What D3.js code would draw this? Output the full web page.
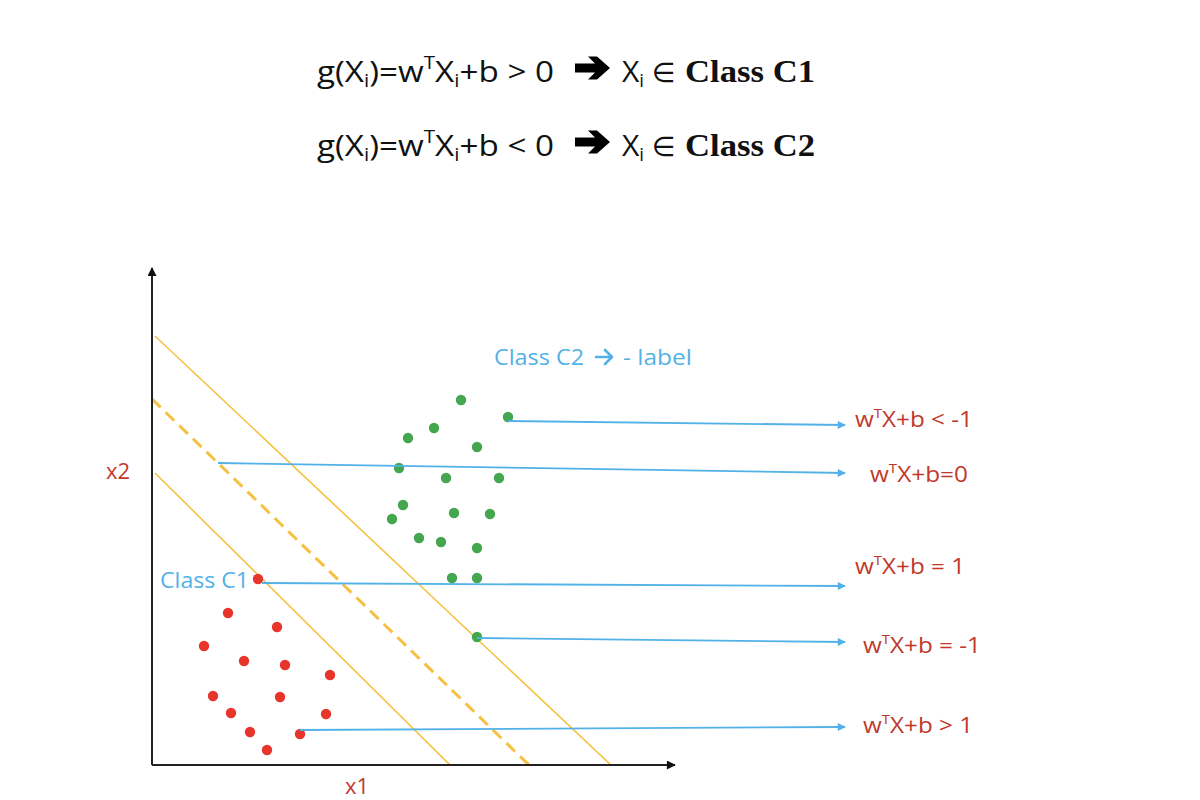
<!DOCTYPE html>
<html>
<head>
<meta charset="utf-8">
<script src="https://cdn.jsdelivr.net/npm/d3@7"></script>
<style>
  html, body { margin: 0; padding: 0; background: #fff; }
  svg { display: block; }
</style>
</head>
<body>
<svg id="chart" width="1200" height="800"></svg>
<script>
// ---------- DATA (x1, x2 in chart units) ----------
const classC1 = [
  [21.2, 37.2], [15.2, 30.4], [25.0, 27.6], [10.4, 23.8], [18.4, 20.8],
  [26.6, 20.0], [35.6, 18.0], [12.2, 13.8], [25.6, 13.6], [15.8, 10.4],
  [34.8, 10.2], [19.6, 6.6], [29.6, 6.2], [23.0, 3.0]
];
const classC2 = [
  [61.8, 73.0], [71.2, 69.6], [56.4, 67.4], [51.2, 65.4], [65.0, 63.6],
  [49.4, 59.4], [58.8, 57.4], [69.4, 57.4], [50.2, 52.0], [60.4, 50.4],
  [67.6, 50.2], [48.0, 49.2], [53.4, 45.4], [57.8, 44.6], [65.0, 43.4],
  [60.0, 37.4], [65.0, 37.4], [65.0, 25.6]
];
// hyperplanes: endpoints
const planeNeg1 = [[0.6, 85.8], [91.8, 0]];
const planeZero = [[0, 73.2], [75.4, 0]];
const planePos1 = [[0.6, 58.4], [59.6, 0]];
// annotation pointers
const pointerStart = [[71.2, 68.8], [13.2, 60.4], [22.0, 36.4], [65.0, 25.4], [29.6, 7.0]];
const pointerEnd   = [[138.6, 68.0], [138.6, 58.4], [138.6, 35.8], [138.6, 24.6], [138.6, 7.6]];
const ruleTails    = ["+b < -1", "+b=0", "+b = 1", "+b = -1", "+b > 1"];
const ruleAnchor   = [[140.6, 67.6], [143.6, 56.6], [140.6, 38.2], [142.2, 22.4], [142.2, 6.4]];
const axisNames = ["x1", "x2"];
const classNames = ["Class C1", "Class C2"];
const headerOps = ["> 0", "< 0"];

// ---------- SCALES ----------
const svg = d3.select("#chart");
const x = d3.scaleLinear().domain([0, 100]).range([152, 652]);
const y = d3.scaleLinear().domain([0, 100]).range([765, 265]);

const SANS = "'Open Sans', 'Noto Sans', sans-serif";
const RED_TXT = "#c0392b";
const BLUE = "#52b2e8";
const YELLOW = "#f6c143";

// markers
const defs = svg.append("defs");
defs.append("marker").attr("id", "axArrow").attr("viewBox", "0 0 10 10")
  .attr("refX", 9).attr("refY", 5).attr("markerWidth", 10).attr("markerHeight", 9)
  .attr("markerUnits", "userSpaceOnUse").attr("orient", "auto")
  .append("path").attr("d", "M0,0 L10,5 L0,10 Z").attr("fill", "#111");
defs.append("marker").attr("id", "blueArrow").attr("viewBox", "0 0 10 10")
  .attr("refX", 9).attr("refY", 5).attr("markerWidth", 10).attr("markerHeight", 8)
  .attr("markerUnits", "userSpaceOnUse").attr("orient", "auto")
  .append("path").attr("d", "M0,0 L10,5 L0,10 Z").attr("fill", BLUE);

// rich-text helper
function rich(sel, segs, size) {
  let shift = 0;
  segs.forEach(s => {
    const t = sel.append("tspan").text(s.t);
    let target = 0;
    if (s.sup) { t.attr("font-size", size * 0.62); target = -size * 0.42; }
    else if (s.sub) { t.attr("font-size", size * 0.62); target = size * 0.18; }
    if (target !== shift) { t.attr("dy", target - shift); shift = target; }
  });
}
function fit(sel, w) {
  return sel.attr("textLength", w).attr("lengthAdjust", "spacingAndGlyphs");
}

// ---------- HEADER ----------
headerOps.forEach((op, i) => {
  const base = 82 + i * 74;
  const t1 = svg.append("text").attr("x", 317).attr("y", base)
    .attr("font-family", SANS).attr("font-size", 30).attr("fill", "#111");
  rich(t1, [{t: "g(X"}, {t: "i", sub: true}, {t: ")=w"}, {t: "T", sup: true},
            {t: "X"}, {t: "i", sub: true}, {t: "+b " + op}], 30);
  fit(t1, 237);
  // heavy black arrow
  const ax = 575, ay = base - 14;
  svg.append("path")
    .attr("d", `M${ax},${ay - 4.5} L${ax + 20},${ay - 4.5} L${ax + 13},${ay - 11.5} L${ax + 22},${ay - 11.5} L${ax + 35},${ay} L${ax + 22},${ay + 11.5} L${ax + 13},${ay + 11.5} L${ax + 20},${ay + 4.5} L${ax},${ay + 4.5} Z`)
    .attr("fill", "#000");
  const t2 = svg.append("text").attr("x", 622).attr("y", base)
    .attr("font-family", SANS).attr("font-size", 30).attr("fill", "#111");
  rich(t2, [{t: "X"}, {t: "i", sub: true}], 30);
  svg.append("text").attr("x", 652).attr("y", base)
    .attr("font-family", "'DejaVu Sans', sans-serif").attr("font-size", 27).attr("fill", "#111").text("\u2208");
  fit(svg.append("text").attr("x", 685).attr("y", base)
    .attr("font-family", "'Liberation Serif', 'DejaVu Serif', serif").attr("font-size", 32)
    .attr("font-weight", "bold").attr("fill", "#111").text("Class " + (i === 0 ? "C1" : "C2")), 130);
});

// ---------- HYPERPLANES ----------
const line = d3.line().x(d => x(d[0])).y(d => y(d[1]));
svg.append("path").datum(planeNeg1).attr("d", line).attr("stroke", YELLOW).attr("stroke-width", 1.6).attr("fill", "none");
svg.append("path").datum(planePos1).attr("d", line).attr("stroke", YELLOW).attr("stroke-width", 1.6).attr("fill", "none");
svg.append("path").datum(planeZero).attr("d", line).attr("stroke", YELLOW).attr("stroke-width", 3)
  .attr("stroke-dasharray", "12,7").attr("fill", "none");

// ---------- AXES ----------
svg.append("line").attr("x1", x(0)).attr("y1", y(0)).attr("x2", x(104.6)).attr("y2", y(0))
  .attr("stroke", "#222").attr("stroke-width", 2).attr("marker-end", "url(#axArrow)");
svg.append("line").attr("x1", x(0)).attr("y1", y(0)).attr("x2", x(0)).attr("y2", y(99.4))
  .attr("stroke", "#222").attr("stroke-width", 2).attr("marker-end", "url(#axArrow)");
svg.append("text").attr("x", x(41)).attr("y", 794).attr("font-family", SANS)
  .attr("font-size", 22).attr("fill", RED_TXT).attr("text-anchor", "middle").text(axisNames[0]);
svg.append("text").attr("x", 118).attr("y", y(57.2)).attr("font-family", SANS)
  .attr("font-size", 22).attr("fill", RED_TXT).attr("text-anchor", "middle").text(axisNames[1]);

// ---------- POINTS ----------
svg.append("g").selectAll("circle").data(classC1).join("circle")
  .attr("cx", d => x(d[0])).attr("cy", d => y(d[1])).attr("r", 5.2).attr("fill", "#e8352b");
svg.append("g").selectAll("circle").data(classC2).join("circle")
  .attr("cx", d => x(d[0])).attr("cy", d => y(d[1])).attr("r", 5.2).attr("fill", "#44a64e");

// ---------- POINTERS ----------
const ruleWidths = [118, 98, 110, 118, 110];
pointerStart.forEach((s, i) => {
  svg.append("line").attr("x1", x(s[0])).attr("y1", y(s[1]))
    .attr("x2", x(pointerEnd[i][0])).attr("y2", y(pointerEnd[i][1]))
    .attr("stroke", BLUE).attr("stroke-width", 1.8).attr("marker-end", "url(#blueArrow)");
  const t = svg.append("text").attr("x", x(ruleAnchor[i][0])).attr("y", y(ruleAnchor[i][1]))
    .attr("font-family", SANS).attr("font-size", 21).attr("fill", RED_TXT);
  rich(t, [{t: "w"}, {t: "T", sup: true}, {t: "X"}, {t: ruleTails[i]}], 21);
  fit(t, ruleWidths[i]);
});

// ---------- CLASS LABELS ----------
fit(svg.append("text").attr("x", 160).attr("y", 588).attr("font-family", SANS)
  .attr("font-size", 21).attr("fill", BLUE).text(classNames[0]), 89);
fit(svg.append("text").attr("x", 494).attr("y", 365).attr("font-family", SANS)
  .attr("font-size", 21).attr("fill", BLUE).text(classNames[1]), 90);
svg.append("path")
  .attr("d", "M596,357 L612,357 M605,350 L612,357 L605,364")
  .attr("stroke", BLUE).attr("stroke-width", 2.6).attr("fill", "none")
  .attr("stroke-linecap", "round").attr("stroke-linejoin", "round");
fit(svg.append("text").attr("x", 623).attr("y", 365).attr("font-family", SANS)
  .attr("font-size", 21).attr("fill", BLUE).text("- label"), 69);
</script>
</body>
</html>
